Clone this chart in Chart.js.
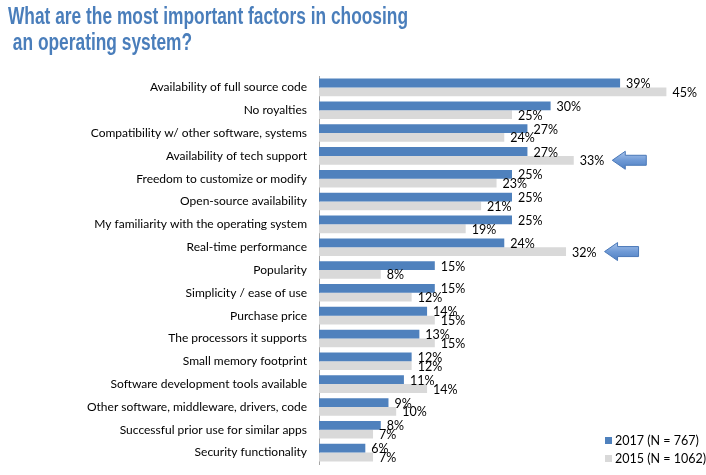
<!DOCTYPE html>
<html>
<head>
<meta charset="utf-8">
<script src="https://cdn.jsdelivr.net/npm/chart.js@4.4.1/dist/chart.umd.min.js"></script>
<style>
  html, body { margin: 0; padding: 0; background: #fff; }
</style>
</head>
<body>
<canvas id="chart" width="706" height="475"></canvas>
<script>
// ---- data ----
const titleLines = ['What are the most important factors in choosing', ' an operating system?'];
const factors = [
  'Availability of full source code',
  'No royalties',
  'Compatibility w/ other software, systems',
  'Availability of tech support',
  'Freedom to customize or modify',
  'Open-source availability',
  'My familiarity with the operating system',
  'Real-time performance',
  'Popularity',
  'Simplicity / ease of use',
  'Purchase price',
  'The processors it supports',
  'Small memory footprint',
  'Software development tools available',
  'Other software, middleware, drivers, code',
  'Successful prior use for similar apps',
  'Security functionality'
];
const vals2017 = [39, 30, 27, 27, 25, 25, 25, 24, 15, 15, 14, 13, 12, 11, 9, 8, 6];
const vals2015 = [45, 25, 24, 33, 23, 21, 19, 32, 8, 12, 15, 15, 12, 14, 10, 7, 7];
const seriesNames = ['2017 (N = 767)', '2015 (N = 1062)'];
const arrowRows = [3, 7]; // 2015 bars flagged with an arrow

const BLUE = '#4f81bd', GRAY = '#d9d9d9', FONT = 'Lato, "Open Sans", sans-serif';

// title, drawn on the canvas
const titlePlugin = {
  id: 'titleText',
  afterDraw(chart) {
    const ctx = chart.ctx;
    ctx.save();
    ctx.fillStyle = '#4a7ebb';
    ctx.font = 'bold 23px "Liberation Sans Narrow", "Arial Narrow", "Liberation Sans", sans-serif';
    ctx.textBaseline = 'alphabetic';
    const w = ctx.measureText(titleLines[0]).width;
    const sx = 400 / w;
    ctx.translate(8, 0);
    ctx.scale(sx, 1);
    ctx.fillText(titleLines[0], 0, 24);
    ctx.fillText(titleLines[1], 0, 50);
    ctx.restore();
  }
};

// value labels + arrows
const labelPlugin = {
  id: 'valueLabels',
  afterDatasetsDraw(chart) {
    const ctx = chart.ctx;
    ctx.save();
    ctx.font = '12.5px ' + FONT;
    ctx.fillStyle = '#000';
    ctx.textBaseline = 'middle';
    chart.data.datasets.forEach((ds, d) => {
      chart.getDatasetMeta(d).data.forEach((bar, i) => {
        const txt = ds.data[i] + '%';
        const x = bar.x + 6, y = bar.y + 1;
        ctx.fillText(txt, x, y);
        if (d === 1 && arrowRows.includes(i)) {
          drawArrow(ctx, x + ctx.measureText(txt).width + 8, bar.y);
        }
      });
    });
    ctx.restore();
  }
};

function drawArrow(ctx, tx, ty) {
  const len = 34, head = 13, hh = 9, sh = 5;
  ctx.save();
  const g = ctx.createLinearGradient(0, ty - hh, 0, ty + hh);
  g.addColorStop(0, '#a9c4eb');
  g.addColorStop(0.5, '#6f9ad6');
  g.addColorStop(1, '#4f7fc2');
  ctx.beginPath();
  ctx.moveTo(tx, ty);
  ctx.lineTo(tx + head, ty - hh);
  ctx.lineTo(tx + head, ty - sh);
  ctx.lineTo(tx + len, ty - sh);
  ctx.lineTo(tx + len, ty + sh);
  ctx.lineTo(tx + head, ty + sh);
  ctx.lineTo(tx + head, ty + hh);
  ctx.closePath();
  ctx.fillStyle = g;
  ctx.fill();
  ctx.strokeStyle = '#4a78b8';
  ctx.lineWidth = 1;
  ctx.stroke();
  ctx.restore();
}

// legend bottom right
const legendPlugin = {
  id: 'cornerLegend',
  afterDraw(chart) {
    const ctx = chart.ctx, a = chart.chartArea;
    ctx.save();
    ctx.font = '12.5px ' + FONT;
    ctx.textBaseline = 'middle';
    [BLUE, GRAY].forEach((c, i) => {
      const y = a.bottom - 23 + i * 18;
      ctx.fillStyle = c;
      ctx.fillRect(605, y - 4, 7, 7);
      ctx.fillStyle = '#000';
      ctx.fillText(seriesNames[i], 615, y);
    });
    ctx.restore();
  }
};

new Chart(document.getElementById('chart'), {
  type: 'bar',
  data: {
    labels: factors,
    datasets: [
      { label: seriesNames[0], data: vals2017, backgroundColor: BLUE },
      { label: seriesNames[1], data: vals2015, backgroundColor: GRAY }
    ]
  },
  options: {
    indexAxis: 'y',
    responsive: false,
    animation: false,
    datasets: { bar: { barPercentage: 1, categoryPercentage: 0.77 } },
    layout: { padding: { top: 76, bottom: 11, right: 1, left: 0 } },
    scales: {
      x: { display: false, min: 0, max: 50 },
      y: {
        grid: { display: false, drawTicks: false },
        border: { display: true, color: '#a6a6a6', width: 1 },
        ticks: { color: '#000', font: { family: FONT, size: 12 }, padding: 12 },
        afterFit(s) { s.width = 319; s.paddingTop = 0; s.paddingBottom = 0; }
      }
    },
    plugins: {
      legend: { display: false },
      title: { display: false },
      tooltip: { enabled: false }
    }
  },
  plugins: [titlePlugin, labelPlugin, legendPlugin]
});
</script>
</body>
</html>
